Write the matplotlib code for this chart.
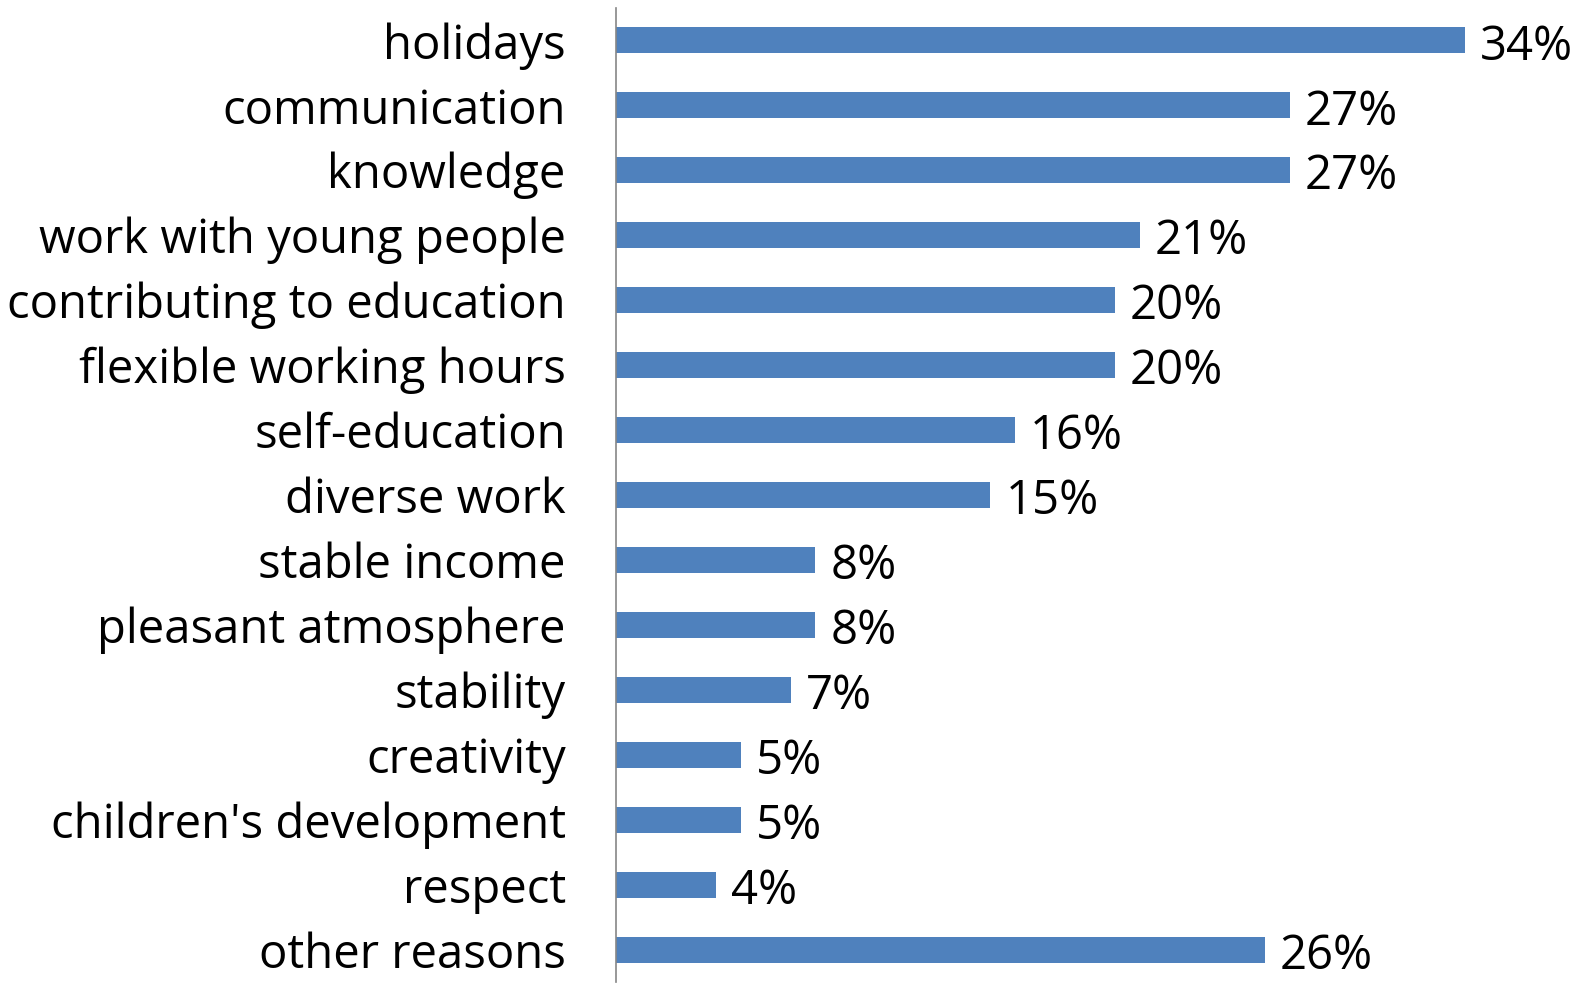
import matplotlib.pyplot as plt

# Reasons for choosing the teaching profession
reasons = ["holidays", "communication", "knowledge", "work with young people",
           "contributing to education", "flexible working hours", "self-education",
           "diverse work", "stable income", "pleasant atmosphere", "stability",
           "creativity", "children's development", "respect", "other reasons"]
shares = [34, 27, 27, 21, 20, 20, 16, 15, 8, 8, 7, 5, 5, 4, 26]

bar_color = "#4F81BD"

plt.rcParams['font.family'] = ['Open Sans', 'DejaVu Sans']

fig = plt.figure(figsize=(15.87, 9.85), dpi=100)
ax = fig.add_axes([0.388, 0.003, 0.612, 0.989])

pos = list(range(len(reasons)))
ax.barh(pos, shares, height=0.4, color=bar_color)
ax.set_ylim(len(reasons) - 0.5, -0.5)
ax.set_xlim(0, 38.9)

for p, v in zip(pos, shares):
    ax.text(v + 0.6, p + 0.1, f"{v}%", va="center", ha="left", fontsize=34)

ax.set_yticks(pos)
ax.set_yticklabels(reasons, fontsize=34)
ax.tick_params(axis="y", length=0, pad=36)
ax.set_xticks([])

for side in ["top", "right", "bottom"]:
    ax.spines[side].set_visible(False)
ax.spines["left"].set_color("#868686")
ax.spines["left"].set_linewidth(1.2)

fig.savefig("out.png", dpi=100)
